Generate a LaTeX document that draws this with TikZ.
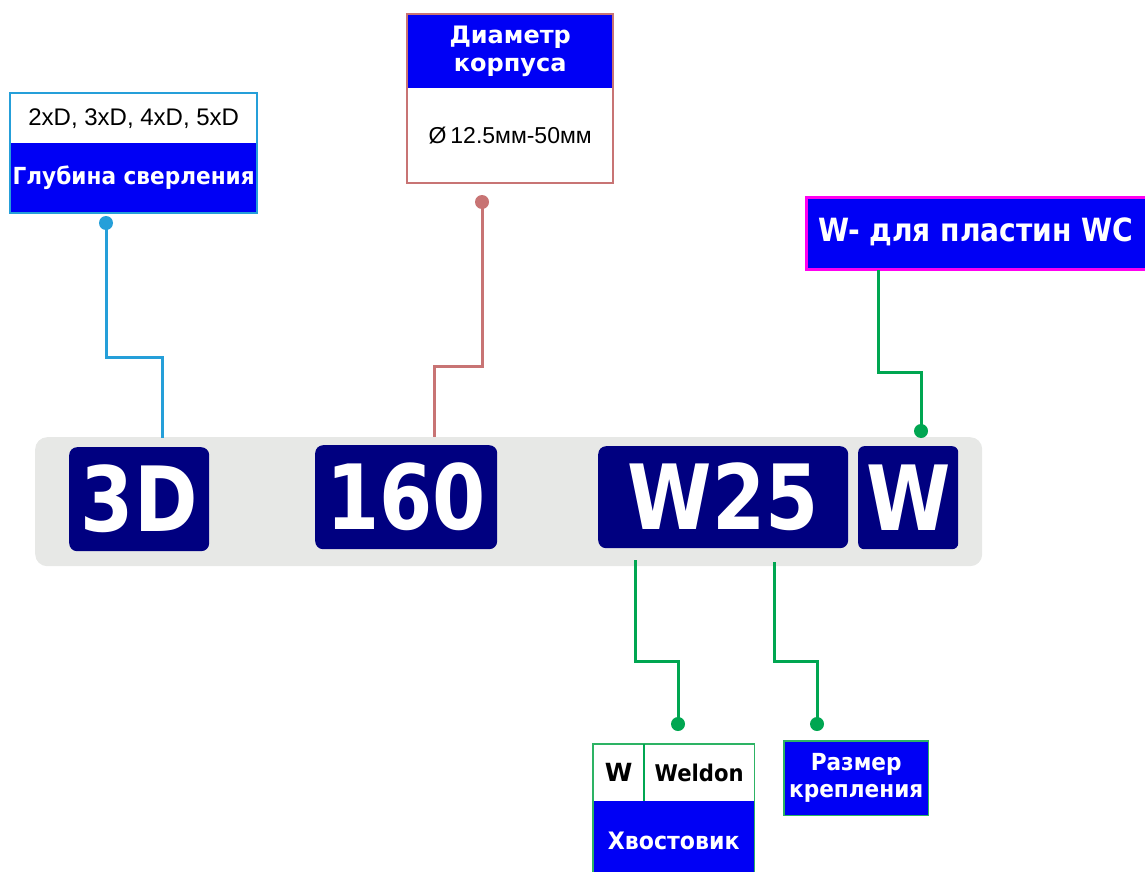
\documentclass[tikz,border=0pt]{standalone}
\usepackage{fontspec}
\setmainfont{Liberation Sans}
\newfontfamily\tb[FakeStretch=0.92]{DejaVu Sans Bold}
\newfontfamily\tbn[FakeStretch=0.88]{DejaVu Sans Bold}
\newfontfamily\tbw{DejaVu Sans Bold}
\newfontfamily\tbig[FakeStretch=0.85]{DejaVu Sans Bold}
\definecolor{navy}{HTML}{000080}
\definecolor{hdrblue}{HTML}{0000F5}
\definecolor{bargray}{HTML}{E7E8E6}
\definecolor{skyline}{HTML}{259FD9}
\definecolor{roseline}{HTML}{C87474}
\definecolor{greenline}{HTML}{00A651}
\definecolor{greenedge}{HTML}{2DB364}
\definecolor{magentaedge}{HTML}{FF00F0}
\tikzset{
  codebox/.style={fill=navy, rounded corners=8pt, inner sep=0pt, anchor=north west,
    text=white, font=\tbig\fontsize{90}{90}\selectfont},
  hdr/.style={fill=hdrblue, text=white, inner sep=0pt, anchor=north west,
    align=center, font=\tb\fontsize{23.5}{27}\selectfont},
  valbox/.style={fill=white, text=black, inner sep=0pt, anchor=north west,
    align=center, font=\fontsize{24}{27}\selectfont},
  wire/.style={line width=3pt},
  pin/.style={circle, inner sep=0pt, minimum size=14pt},
}
\begin{document}
\begin{tikzpicture}[x=1pt,y=-1pt]
\useasboundingbox (0,0) rectangle (1145,872);

% code strip
\node[fill=bargray, rounded corners=12pt, minimum width=947pt, minimum height=129pt,
  inner sep=0pt, anchor=north west] (bar) at (35,437) {};
\node[codebox, minimum width=140pt, minimum height=104pt] (c3d) at (69,447) {3D};
\node[codebox, minimum width=182pt, minimum height=104pt] (c160) at (315,445) {160};
\node[codebox, minimum width=250pt, minimum height=102pt] (cw25) at (598,446) {W25};
\node[codebox, minimum width=100pt, minimum height=103pt, rounded corners=6pt] (cw) at (858,446) {W};

% drilling depth
\node[valbox, minimum width=247pt, minimum height=50pt] (depthval) at (10,93) {2xD, 3xD, 4xD, 5xD};
\node[hdr, minimum width=247pt, minimum height=70pt] (depthlbl) at (10,143) {Глубина сверления};
\draw[skyline, line width=2pt] (depthval.north west) rectangle (depthlbl.south east);

% body diameter
\node[hdr, minimum width=206pt, minimum height=74pt, font=\tbw\fontsize{24}{28}\selectfont] (diamlbl) at (407,14) {Диаметр\\корпуса};
\node[valbox, minimum width=206pt, minimum height=95pt, font=\fontsize{23}{27}\selectfont] (diamval) at (407,88) {Ø\,12.5мм-50мм};
\draw[roseline, line width=2pt] (diamlbl.north west) rectangle (diamval.south east);

% insert type (the box runs on past the right edge of the page)
\node[fill=hdrblue, draw=magentaedge, line width=3pt, inner sep=0pt, anchor=north west,
  minimum width=360pt, minimum height=72pt] (insert) at (805,196) {};
\node[text=white, inner sep=0pt, anchor=west, font=\tbn\fontsize{32}{32}\selectfont]
  (inserttxt) at (818,232) {W- для пластин WC};

% shank
\node[valbox, minimum width=51pt, minimum height=57pt, font=\tbw\fontsize{25}{27}\selectfont] (shankcode) at (593,744) {W};
\node[valbox, minimum width=110pt, minimum height=57pt, font=\tb\fontsize{23}{27}\selectfont] (shankname) at (644,744) {Weldon};
\node[hdr, minimum width=161pt, minimum height=80pt, font=\tb\fontsize{24}{27}\selectfont] (shanklbl) at (593,801) {Хвостовик};
\draw[greenedge, line width=1.5pt] (shanklbl.south west) -- (shankcode.north west) -- (shankname.north east) -- (shanklbl.south east);
\draw[greenline, line width=2pt] (shankcode.north east) -- (shankcode.south east);

% mount size
\node[hdr, minimum width=144pt, minimum height=74pt] (mount) at (784,741) {Размер\\крепления};
\draw[greenedge, line width=1.5pt] (mount.north west) rectangle (mount.south east);

% pins
\node[pin, fill=skyline] (p1) at (106,223) {};
\node[pin, fill=roseline] (p2) at (482,202) {};
\node[pin, fill=greenline] (p3) at (921,431) {};
\node[pin, fill=greenline] (p4) at (678,724) {};
\node[pin, fill=greenline] (p5) at (817,724) {};

% leader lines
\coordinate (e1) at (162,438);
\coordinate (e2) at (434,437);
\coordinate (s3) at (878,270);
\coordinate (s4) at (635,560);
\coordinate (s5) at (774,562);

\draw[wire, skyline] (p1.center) -- (106,357) -- (162,357) -- (e1);
\draw[wire, roseline] (p2.center) -- (482,366) -- (434,366) -- (e2);
\draw[wire, greenline] (s3) -- (878,372) -- (921,372) -- (p3.center);
\draw[wire, greenline] (s4) -- (635,661) -- (678,661) -- (p4.center);
\draw[wire, greenline] (s5) -- (774,661) -- (817,661) -- (p5.center);
\end{tikzpicture}
\end{document}
